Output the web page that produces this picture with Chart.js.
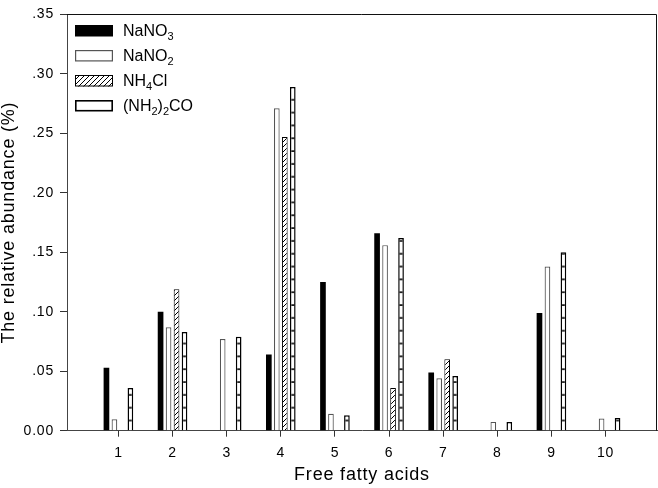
<!DOCTYPE html>
<html><head><meta charset="utf-8">
<script src="https://cdn.jsdelivr.net/npm/chart.js@4.4.1/dist/chart.umd.min.js"></script>
<style>html,body{margin:0;padding:0;background:#fff}</style>
</head><body>
<canvas id="c" width="658" height="488"></canvas>
<script>
// ---- data ----
const categories = ['1','2','3','4','5','6','7','8','9','10'];
const nano3 = [0.053, 0.100, null, 0.064, 0.125, 0.166, 0.049, null, 0.099, null];
const nano2 = [0.0096, 0.087, 0.077, 0.271, 0.0143, 0.156, 0.044, 0.0074, 0.138, 0.0102];
const nh4cl = [null, 0.119, null, 0.247, null, 0.036, 0.060, null, null, null];
const urea  = [0.036, 0.083, 0.079, 0.289, 0.013, 0.162, 0.046, 0.0074, 0.150, 0.0107];
const yTickLabels = ['0.00','.05','.10','.15','.20','.25','.30','.35'];
const seriesNames = ['NaNO_3','NaNO_2','NH_4Cl','(NH_2)_2CO'];
const xTitle = 'Free fatty acids';
const yTitle = 'The relative abundance (%)';

const FONT = "'Liberation Sans', Arial, sans-serif";
const SPACING = '0.8px';

// ---- patterns ----
function hatchPattern(){
  const c=document.createElement('canvas'); c.width=5; c.height=5;
  const g=c.getContext('2d');
  g.fillStyle='#fff'; g.fillRect(0,0,5,5);
  g.strokeStyle='#000'; g.lineWidth=1;
  g.beginPath(); g.moveTo(-1,6); g.lineTo(6,-1); g.stroke();
  g.beginPath(); g.moveTo(-1,1); g.lineTo(1,-1); g.stroke();
  g.beginPath(); g.moveTo(4,6); g.lineTo(6,4); g.stroke();
  return g.createPattern(c,'repeat');
}
function stripePattern(){
  const c=document.createElement('canvas'); c.width=4; c.height=13;
  const g=c.getContext('2d');
  g.fillStyle='#fff'; g.fillRect(0,0,4,13);
  g.fillStyle='#000'; g.fillRect(0,9.3,4,1.6);
  const p=g.createPattern(c,'repeat');
  p.setTransform(new DOMMatrix([1,0,0,12.83/13,0,0]));
  return p;
}
const hatch = hatchPattern();
const stripe = stripePattern();

const toPts = arr => arr.map((v,i)=>({x:i+1, y:v}));

const swatchStyles = [
  {fill:'#000', stroke:null, lw:0},
  {fill:'#fff', stroke:'#555', lw:1.2},
  {fill:hatch, stroke:'#000', lw:1},
  {fill:'#fff', stroke:'#000', lw:1.6}
];

const spacingPlugin = {
  id:'spacing',
  beforeDraw(chart){ chart.ctx.letterSpacing = SPACING; },
  afterDraw(chart){ chart.ctx.letterSpacing = '0px'; }
};

const framePlugin = {
  id:'frame',
  afterDraw(chart){
    const {ctx, chartArea:a} = chart;
    ctx.save();
    ctx.strokeStyle='#111'; ctx.lineWidth=1;
    ctx.beginPath();
    ctx.moveTo(a.left, Math.round(a.top)+0.5);
    ctx.lineTo(Math.round(a.right)-0.5, Math.round(a.top)+0.5);
    ctx.lineTo(Math.round(a.right)-0.5, a.bottom);
    ctx.stroke();
    ctx.restore();
  }
};

function drawRich(ctx, text, x, y, size, subSize){
  const parts = text.split(/_(\d)/);
  let cx = x;
  parts.forEach((p, idx)=>{
    if(!p) return;
    const isSub = idx % 2 === 1;
    ctx.font = (isSub ? subSize : size) + 'px ' + FONT;
    ctx.fillText(p, cx, isSub ? y + 4 : y);
    cx += ctx.measureText(p).width;
  });
}

const legendPlugin = {
  id:'customLegend',
  afterDraw(chart){
    const ctx = chart.ctx;
    ctx.save();
    ctx.letterSpacing = '0px';
    ctx.textBaseline = 'alphabetic';
    ctx.textAlign = 'left';
    seriesNames.forEach((name, i)=>{
      const top = 25 + i*25;
      const st = swatchStyles[i];
      const x = 75, w = 38, h = 11.5;
      ctx.fillStyle = st.fill;
      ctx.fillRect(x, top, w, h);
      if(st.stroke){
        ctx.strokeStyle = st.stroke; ctx.lineWidth = st.lw;
        ctx.strokeRect(x + st.lw/2, top + st.lw/2, w - st.lw, h - st.lw);
      }
      ctx.fillStyle = '#000';
      drawRich(ctx, name, 123, top + 10.5, 16, 11);
    });
    ctx.restore();
  }
};

new Chart(document.getElementById('c'), {
  type: 'bar',
  data: {
    datasets: [
      {label: seriesNames[0], data: toPts(nano3), backgroundColor:'#000', borderColor:'#000', borderWidth:0},
      {label: seriesNames[1], data: toPts(nano2), backgroundColor:'#fff', borderColor:'#555', borderWidth:1.2},
      {label: seriesNames[2], data: toPts(nh4cl), backgroundColor:hatch, borderColor:'#000', borderWidth:1},
      {label: seriesNames[3], data: toPts(urea), backgroundColor:stripe, borderColor:'#000', borderWidth:1.5}
    ]
  },
  options: {
    responsive: false,
    animation: false,
    devicePixelRatio: 1,
    categoryPercentage: 0.59,
    barPercentage: 0.71,
    layout: {padding: {top: 6, right: 1, left: 0, bottom: 0}},
    plugins: {legend: {display:false}, tooltip: {enabled:false}},
    scales: {
      x: {
        type: 'linear',
        min: 0.05, max: 10.95,
        offset: false,
        afterBuildTicks: s => { s.ticks = categories.map((_, i) => ({value: i+1})); },
        afterFit: s => { s.height = 57.3; },
        ticks: {
          autoSkip: false, maxRotation: 0,
          callback: v => categories[Math.round(v)-1],
          font: {size: 14, family: FONT}, color: '#000', padding: 8
        },
        grid: {display: true, drawOnChartArea: false, drawTicks: true, tickLength: 6, tickColor: '#333', offset: false},
        border: {display: true, color: '#444', width: 1},
        title: {display: true, text: xTitle, color: '#000', font: {size: 18, family: FONT, lineHeight: 1.2}, padding: {top: 0, bottom: 2}}
      },
      y: {
        min: 0, max: 0.35,
        afterFit: s => { s.width = 67; },
        ticks: {
          stepSize: 0.05,
          callback: v => yTickLabels[Math.round(v/0.05)],
          font: {size: 14, family: FONT}, color: '#000', padding: 6
        },
        grid: {display: true, drawOnChartArea: false, drawTicks: true, tickLength: 7, tickColor: '#333'},
        border: {display: true, color: '#444', width: 1},
        title: {display: true, text: yTitle, color: '#000', font: {size: 18, family: FONT, lineHeight: 1}, padding: {top: 0, bottom: 0}}
      }
    }
  },
  plugins: [spacingPlugin, framePlugin, legendPlugin]
});
</script>
</body></html>
